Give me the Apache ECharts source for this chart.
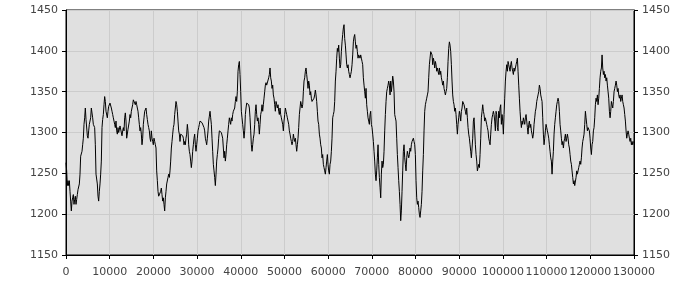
<!DOCTYPE html>
<html>
<head>
<meta charset="utf-8">
<script src="https://cdn.jsdelivr.net/npm/echarts@6/dist/echarts.min.js"></script>
<style>html,body{margin:0;padding:0;background:#fff}#c{width:700px;height:300px}</style>
</head>
<body>
<div id="c"></div>
<script>
// x positions: regular sampling from X_START with step X_STEP
var X_START = 0;
var X_STEP = 152.6;
var xTicks = [0,10000,20000,30000,40000,50000,60000,70000,80000,90000,100000,110000,120000,130000];
var yTicks = [1150,1200,1250,1300,1350,1400,1450];
var values = [
1263,1253,1235,1241,1235,1241,1228,1216,1204,1216,1220,1224,1212,1218,1222,1212,1218,1224,1230,1232,1237,1249,1271,1273,1277,1285,1293,1310,1318,1330,1316,1314,1296,1293,1302,1310,1308,1318,1330,1328,1318,1310,1312,1306,1285,1249,1247,1237,1222,1216,1228,1237,1249,1265,1306,1316,1322,1334,1344,1338,1326,1324,1318,1326,1332,1330,
1336,1334,1330,1326,1322,1318,1314,1310,1306,1314,1302,1298,1306,1300,1302,1308,1308,1306,1296,1302,1306,1302,1318,1324,1314,1293,1293,1304,1302,1314,1322,1318,1326,1330,1334,1340,1342,1338,1334,1338,1334,1330,1326,1318,1310,1302,1306,1298,1285,1293,1310,1318,1326,1328,1330,1322,1316,1310,1306,1302,1293,1289,1302,1293,1289,1285,1293,1289,1285,1281,1253,1241,
1228,1222,1220,1224,1228,1232,1224,1216,1220,1212,1204,1220,1228,1237,1235,1245,1249,1245,1253,1265,1281,1289,1298,1306,1310,1322,1330,1338,1334,1326,1314,1302,1298,1289,1298,1298,1300,1296,1293,1285,1289,1285,1293,1298,1310,1302,1285,1277,1273,1265,1257,1265,1277,1285,1293,1298,1285,1277,1285,1293,1302,1306,1310,1314,1316,1314,1312,1310,1310,1306,1302,1293,
1289,1285,1293,1302,1314,1320,1326,1318,1310,1293,1277,1261,1253,1245,1235,1249,1265,1273,1281,1293,1302,1304,1302,1300,1302,1293,1281,1269,1277,1265,1273,1285,1293,1302,1310,1318,1316,1310,1318,1314,1322,1326,1326,1330,1338,1344,1338,1350,1375,1383,1387,1371,1350,1326,1318,1310,1302,1293,1302,1322,1330,1336,1334,1338,1334,1330,1318,1302,1285,1277,1285,1293,
1298,1310,1326,1334,1322,1314,1318,1310,1298,1310,1322,1326,1334,1326,1334,1342,1350,1358,1361,1358,1356,1358,1367,1371,1379,1367,1363,1354,1358,1346,1342,1334,1326,1338,1334,1330,1334,1326,1322,1330,1322,1318,1314,1310,1302,1314,1322,1330,1326,1322,1318,1314,1310,1302,1298,1293,1289,1285,1289,1298,1293,1289,1293,1285,1277,1285,1293,1306,1322,1330,1338,1340,
1330,1334,1350,1363,1367,1375,1379,1371,1363,1354,1363,1358,1346,1350,1342,1338,1340,1336,1342,1346,1352,1346,1338,1326,1314,1310,1298,1293,1285,1281,1269,1273,1261,1257,1253,1249,1257,1265,1273,1261,1253,1249,1261,1265,1277,1293,1318,1322,1326,1338,1363,1375,1391,1403,1399,1407,1391,1379,1383,1399,1411,1420,1428,1432,1415,1407,1395,1383,1379,1383,1375,1371,
1367,1371,1375,1383,1395,1411,1417,1420,1411,1403,1407,1399,1391,1395,1397,1391,1395,1391,1387,1383,1367,1358,1350,1342,1354,1334,1326,1318,1314,1310,1322,1326,1310,1306,1298,1289,1277,1265,1249,1241,1253,1269,1285,1261,1245,1233,1220,1249,1265,1257,1261,1277,1302,1322,1338,1350,1354,1358,1363,1358,1346,1363,1350,1358,1369,1363,1350,1322,1318,1314,1293,1273,
1257,1241,1228,1212,1192,1204,1228,1253,1277,1285,1269,1261,1253,1269,1277,1273,1269,1273,1281,1277,1285,1289,1291,1293,1289,1285,1273,1241,1220,1212,1216,1208,1200,1196,1204,1212,1228,1253,1273,1302,1326,1334,1338,1342,1346,1350,1367,1383,1391,1399,1401,1395,1383,1391,1387,1379,1387,1383,1375,1379,1375,1371,1379,1371,1375,1367,1363,1358,1363,1354,1350,1346,
1350,1354,1367,1387,1403,1411,1407,1399,1383,1363,1346,1338,1334,1326,1330,1322,1310,1298,1310,1318,1326,1322,1314,1326,1330,1338,1340,1334,1330,1326,1322,1330,1318,1306,1298,1293,1285,1277,1269,1281,1293,1314,1318,1302,1285,1273,1265,1253,1257,1261,1257,1273,1293,1318,1326,1334,1326,1322,1314,1318,1314,1310,1306,1302,1293,1289,1285,1298,1310,1318,1322,1326,
1322,1314,1302,1326,1322,1306,1302,1326,1318,1330,1334,1310,1322,1314,1298,1322,1342,1363,1375,1383,1375,1387,1383,1379,1375,1383,1387,1379,1375,1371,1379,1375,1379,1383,1387,1391,1375,1358,1342,1326,1314,1306,1314,1310,1318,1314,1310,1318,1322,1314,1306,1298,1310,1314,1306,1310,1302,1298,1293,1298,1310,1318,1326,1330,1338,1342,1346,1350,1358,1354,1346,1342,
1338,1318,1298,1285,1293,1302,1310,1306,1302,1298,1293,1285,1277,1269,1265,1249,1265,1277,1298,1310,1318,1326,1334,1338,1342,1338,1326,1310,1302,1293,1285,1289,1281,1289,1293,1298,1289,1293,1298,1293,1285,1281,1273,1265,1261,1253,1245,1237,1241,1235,1237,1245,1253,1249,1253,1257,1261,1265,1261,1269,1281,1289,1293,1298,1310,1326,1318,1310,1302,1306,1304,1302,
1293,1281,1273,1285,1289,1302,1306,1318,1334,1342,1338,1346,1334,1342,1354,1367,1375,1379,1395,1379,1371,1375,1367,1371,1363,1367,1358,1350,1342,1326,1318,1326,1338,1334,1330,1338,1350,1354,1358,1363,1358,1350,1354,1346,1342,1346,1338,1342,1346,1338,1334,1330,1322,1314,1302,1293,1298,1302,1298,1293,1289,1293,1285,1289,1285,1289
];

var data = values.map(function (v, i) { return [X_START + i * X_STEP, v]; });

var chart = echarts.init(document.getElementById('c'), null, {renderer: 'canvas'});
var font = 'DejaVu Sans';
var plain = function (v) { return String(v); };
var labelStyle = {fontFamily: font, fontSize: 11, color: '#444', formatter: plain, hideOverlap: false};
var yBase = {
  type: 'value', min: yTicks[0], max: yTicks[yTicks.length - 1], interval: 50,
  axisLine: {show: true, lineStyle: {color: '#000', width: 1}},
  axisTick: {show: true, length: 4, lineStyle: {color: '#000'}},
  axisLabel: Object.assign({margin: 8}, labelStyle)
};
chart.setOption({
  animation: false,
  backgroundColor: '#ffffff',
  grid: {left: 66, right: 66, top: 10, bottom: 45, show: true, backgroundColor: '#e0e0e0', borderColor: '#000', borderWidth: 1},
  xAxis: {
    type: 'value', min: xTicks[0], max: xTicks[xTicks.length - 1], interval: 10000,
    axisLine: {show: true, onZero: false, lineStyle: {color: '#000', width: 1}},
    axisTick: {show: true, length: 4, lineStyle: {color: '#000'}},
    axisLabel: Object.assign({margin: 12}, labelStyle),
    splitLine: {show: true, lineStyle: {color: '#cccccc', width: 1}}
  },
  yAxis: [
    Object.assign({position: 'left', splitLine: {show: true, lineStyle: {color: '#cccccc', width: 1}}}, yBase),
    Object.assign({position: 'right', splitLine: {show: false}}, yBase)
  ],
  series: [{
    type: 'line', data: data, showSymbol: false, symbol: 'none',
    lineStyle: {color: '#000', width: 1}, yAxisIndex: 0
  }]
});
</script>
</body>
</html>
